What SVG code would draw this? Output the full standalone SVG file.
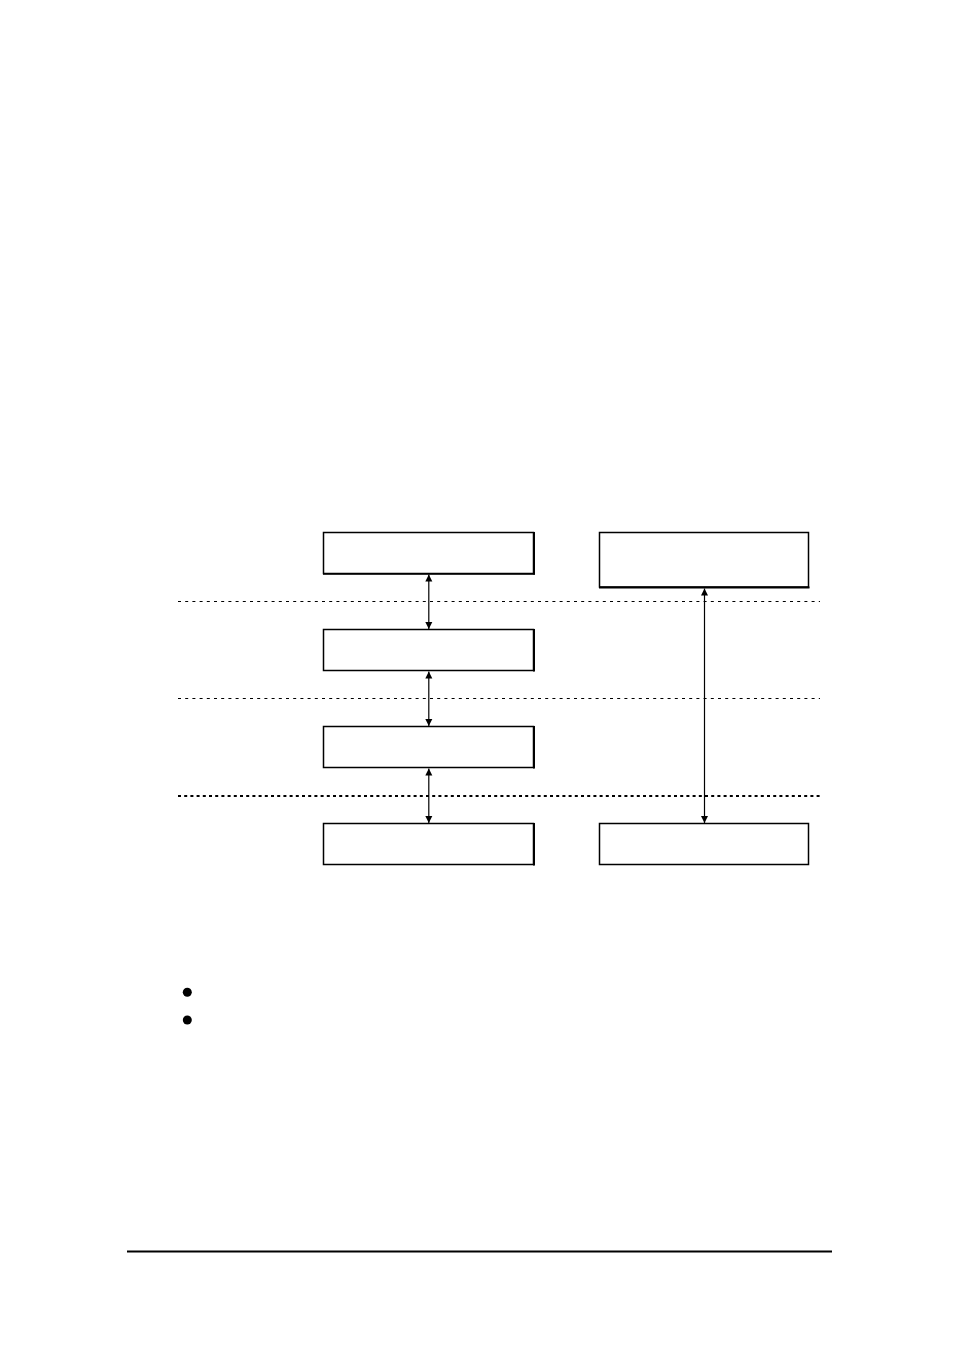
<svg xmlns="http://www.w3.org/2000/svg" width="954" height="1351" viewBox="0 0 954 1351">
<style>
.box{fill:#fff;stroke:#000;stroke-width:1.5}
.dot{stroke:#000;stroke-width:1;stroke-dasharray:3 4.2;fill:none}
.dot2{stroke:#000;stroke-width:2;stroke-dasharray:3 3.2;fill:none}
.conn{stroke:#000;stroke-width:1.2;fill:none;marker-start:url(#ah);marker-end:url(#ah)}
</style>
<defs>
<marker id="ah" viewBox="0 0 10 10" refX="10" refY="5" markerWidth="7" markerHeight="8" markerUnits="userSpaceOnUse" orient="auto-start-reverse">
<path d="M0,0 L10,5 L0,10 z" fill="#000"/>
</marker>
</defs>
<rect width="954" height="1351" fill="#fff"/>
<g id="layers">
<line class="dot" x1="178" y1="601.5" x2="820" y2="601.5"/>
<line class="dot" x1="178" y1="698.5" x2="820" y2="698.5"/>
<line class="dot2" x1="178" y1="796" x2="820" y2="796"/>
</g>
<g id="node-l1"><rect class="box" x="323.5" y="532.5" width="210" height="41"/><line x1="534" y1="532" x2="534" y2="574.5" stroke="#000" stroke-width="2"/><line x1="323" y1="574" x2="535" y2="574" stroke="#000" stroke-width="1.5"/></g>
<g id="node-l2"><rect class="box" x="323.5" y="629.5" width="210" height="41"/><line x1="534" y1="629" x2="534" y2="671.5" stroke="#000" stroke-width="2"/></g>
<g id="node-l3"><rect class="box" x="323.5" y="726.5" width="210" height="41"/><line x1="534" y1="726" x2="534" y2="768.5" stroke="#000" stroke-width="2"/></g>
<g id="node-l4"><rect class="box" x="323.5" y="823.5" width="210" height="41"/><line x1="534" y1="823" x2="534" y2="865.5" stroke="#000" stroke-width="2"/></g>
<g id="node-r1"><rect class="box" x="599.5" y="532.5" width="209" height="54.5"/><line x1="599" y1="587.5" x2="809.5" y2="587.5" stroke="#000" stroke-width="2"/></g>
<g id="node-r2"><rect class="box" x="599.5" y="823.5" width="209" height="41"/></g>
<g id="connectors">
<line class="conn" x1="428.8" y1="574.5" x2="428.8" y2="629"/>
<line class="conn" x1="428.8" y1="671.5" x2="428.8" y2="726"/>
<line class="conn" x1="428.8" y1="768.5" x2="428.8" y2="823"/>
<line class="conn" x1="704.5" y1="588.5" x2="704.5" y2="823"/>
</g>
<g id="bullets">
<circle cx="187.3" cy="992.3" r="4.5" fill="#000"/>
<circle cx="187.3" cy="1020" r="4.5" fill="#000"/>
</g>
<line x1="127" y1="1251.5" x2="832" y2="1251.5" stroke="#000" stroke-width="2"/>
</svg>
